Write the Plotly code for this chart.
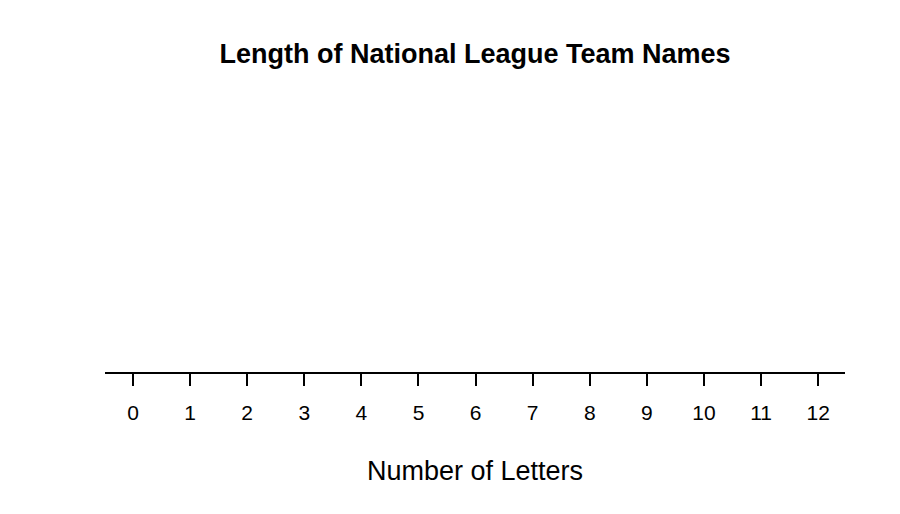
import plotly.graph_objects as go

# blank dot plot (no teams plotted yet)
name_lengths = []
dot_stack = []
tick_values = [0, 1, 2, 3, 4, 5, 6, 7, 8, 9, 10, 11, 12]
tick_labels = ["0", "1", "2", "3", "4", "5", "6", "7", "8", "9", "10", "11", "12"]

fig = go.Figure()
fig.add_trace(go.Scatter(x=name_lengths, y=dot_stack, mode='markers',
                         marker=dict(color='black', size=12), showlegend=False))

# page body adds an 8px offset, so margins are shifted to compensate
fig.update_layout(
    width=900, height=514,
    paper_bgcolor='white', plot_bgcolor='white',
    margin=dict(l=97, r=63, t=72, b=150),
    font=dict(family="Liberation Sans, Arial", color='black'),
    title=dict(text="<b>Length of National League Team Names</b>", x=0.519, xanchor='center',
               y=1 - 46 / 514, yanchor='middle', yref='container', font=dict(size=27)),
    xaxis=dict(range=[-0.49, 12.47], tickvals=tick_values, ticktext=tick_labels,
               showgrid=False, zeroline=False, showline=True, linecolor='black', linewidth=2,
               ticks='outside', ticklen=12, tickwidth=2, tickcolor='black',
               tickfont=dict(size=21), ticklabelstandoff=9, fixedrange=True,
               title=dict(text="Number of Letters", font=dict(size=27), standoff=38)),
    yaxis=dict(range=[0, 10], visible=False, fixedrange=True),
)

fig.write_html("out.html")
